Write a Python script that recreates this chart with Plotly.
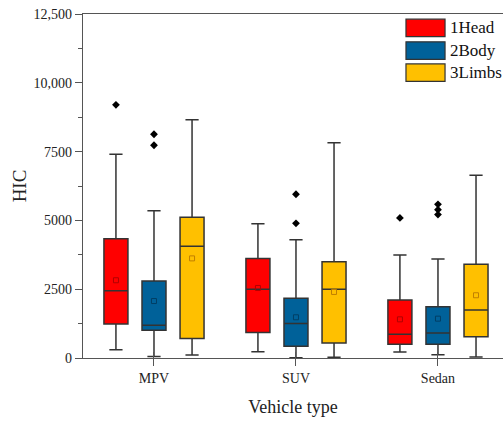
import plotly.graph_objects as go

vehicle_types = ["MPV", "SUV", "Sedan"]
regions = ["1Head", "2Body", "3Limbs"]
fill_colors = ["#FF0000", "#006199", "#FFC000"]
mean_colors = ["#B00000", "#003F66", "#C07F00"]

# Box statistics per body region, in vehicle_types order
lower_whisker = {"1Head": [300, 230, 220], "2Body": [50, 10, 120], "3Limbs": [110, 25, 40]}
q1 = {"1Head": [1240, 930, 500], "2Body": [1005, 425, 500], "3Limbs": [705, 545, 775]}
median = {"1Head": [2440, 2495, 860], "2Body": [1190, 1250, 910], "3Limbs": [4060, 2495, 1745]}
q3 = {"1Head": [4330, 3620, 2110], "2Body": [2800, 2170, 1865], "3Limbs": [5110, 3500, 3405]}
upper_whisker = {"1Head": [7400, 4880, 3745], "2Body": [5355, 4300, 3600], "3Limbs": [8660, 7825, 6640]}
mean = {"1Head": [2825, 2545, 1405], "2Body": [2070, 1480, 1430], "3Limbs": [3620, 2400, 2280]}

# Outliers as (vehicle index, value)
outliers = {
    "1Head": [(0, 9200), (2, 5090)],
    "2Body": [(0, 8130), (0, 7730), (1, 5950), (1, 4895), (2, 5585), (2, 5390), (2, 5210)],
    "3Limbs": [],
}

y_tickvals = [0, 2500, 5000, 7500, 10000, 12500]
y_ticktext = ["0", "2500", "5000", "7500", "10,000", "12,500"]
y_minor = [1250, 3750, 6250, 8750, 11250]

slot = 0.268
box_width = 0.169
edge = "#333333"

fig = go.Figure()
for j, reg in enumerate(regions):
    xs = [i + (j - 1) * slot for i in range(len(vehicle_types))]
    fig.add_trace(go.Box(
        x=xs, q1=q1[reg], median=median[reg], q3=q3[reg],
        lowerfence=lower_whisker[reg], upperfence=upper_whisker[reg],
        orientation="v", width=box_width, whiskerwidth=0.55,
        fillcolor=fill_colors[j], line=dict(color=edge, width=1.5),
        boxpoints=False, name=reg, showlegend=False,
    ))
    fig.add_trace(go.Scatter(
        x=xs, y=mean[reg], mode="markers", showlegend=False,
        marker=dict(symbol="square-open", size=5, color=mean_colors[j], line=dict(width=1)),
    ))
    if outliers[reg]:
        fig.add_trace(go.Scatter(
            x=[k + (j - 1) * slot for k, _ in outliers[reg]],
            y=[v for _, v in outliers[reg]],
            mode="markers", showlegend=False,
            marker=dict(symbol="diamond", size=6, color="black"),
        ))

# Legend swatches and labels
shapes = []
annotations = []
sw_top = [0.985, 0.919, 0.855]
sw_h = 0.051
for j, reg in enumerate(regions):
    shapes.append(dict(type="rect", xref="paper", yref="paper",
                       x0=0.769, x1=0.862, y0=sw_top[j] - sw_h, y1=sw_top[j],
                       fillcolor=fill_colors[j], line=dict(color=edge, width=1.2)))
    annotations.append(dict(xref="paper", yref="paper", x=0.868, y=sw_top[j] - sw_h / 2,
                            text=reg, showarrow=False, xanchor="left", yanchor="middle",
                            font=dict(size=17, color="#111111")))

axis_color = "#555555"
fig.update_layout(
    width=503, height=421,
    margin=dict(l=83, r=0, t=14, b=63),
    paper_bgcolor="white", plot_bgcolor="white",
    font=dict(family="Liberation Serif", size=14, color="#222222"),
    shapes=shapes, annotations=annotations,
    xaxis=dict(
        range=[-0.5, 2.458], tickvals=list(range(len(vehicle_types))), ticktext=vehicle_types,
        showline=True, linecolor=axis_color, linewidth=1.3, mirror=True,
        ticks="outside", ticklen=7, tickcolor=axis_color, tickwidth=1.2,
        minor=dict(tickvals=list(range(len(vehicle_types))), ticks="inside", ticklen=6,
                   tickcolor=axis_color, tickwidth=1.2),
        showgrid=False, zeroline=False,
        title=dict(text="Vehicle type", font=dict(size=18), standoff=15),
    ),
    yaxis=dict(
        range=[0, 12500], tickvals=y_tickvals, ticktext=y_ticktext,
        showline=True, linecolor=axis_color, linewidth=1.3,
        ticks="outside", ticklen=7, tickcolor=axis_color, tickwidth=1.2,
        minor=dict(tickvals=y_minor, ticks="outside", ticklen=4, tickcolor=axis_color, tickwidth=1.2),
        showgrid=False, zeroline=False,
        title=dict(text="HIC", font=dict(size=19), standoff=1),
    ),
)

fig.write_html("out.html")
